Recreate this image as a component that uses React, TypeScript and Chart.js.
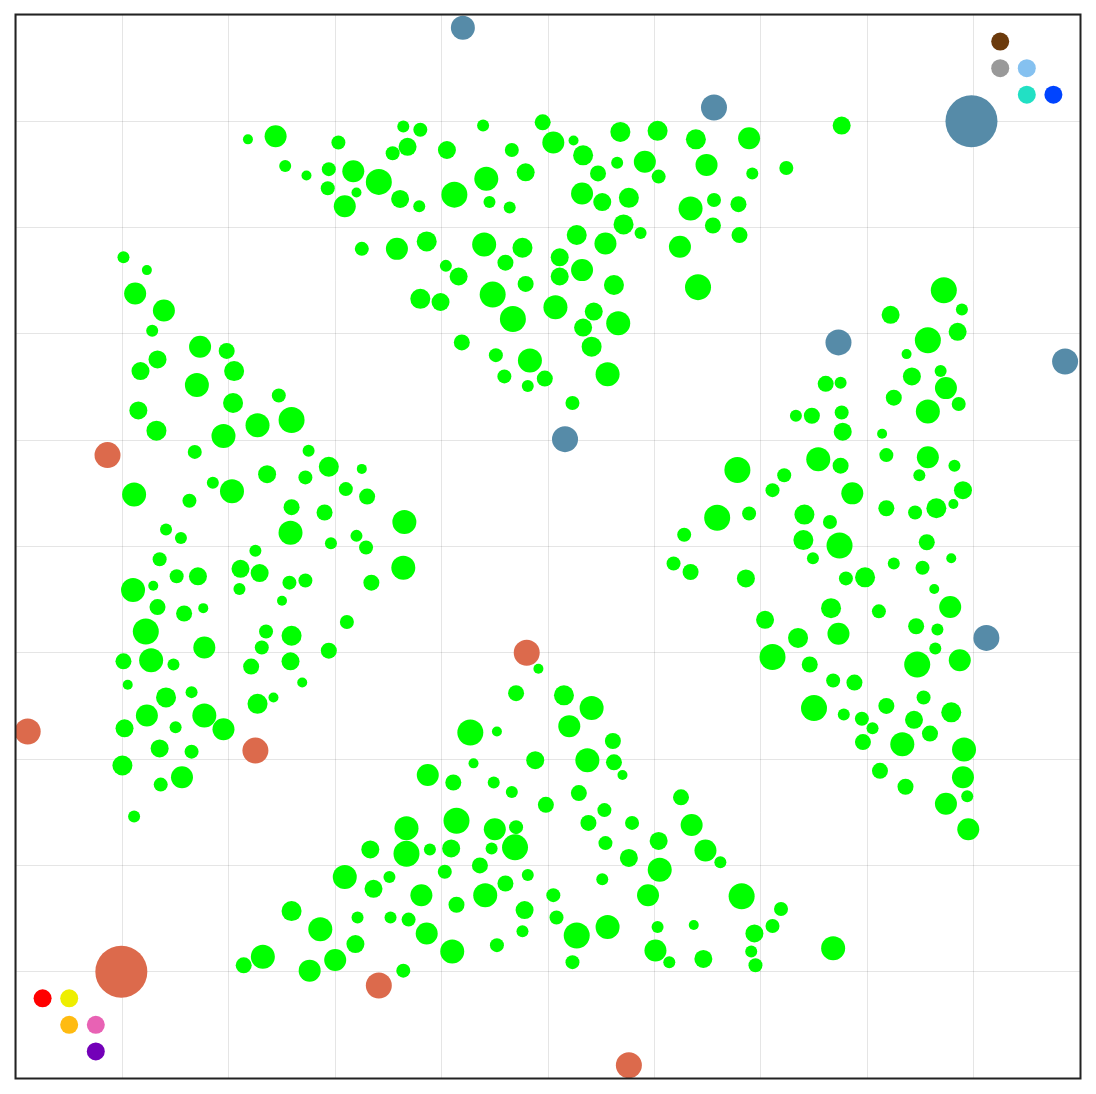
import React, { useEffect, useRef } from "react";
import { Chart, registerables } from "chart.js";

Chart.register(...registerables);

// [x, y, radius]
type Pt = [number, number, number];

const topCluster: Pt[] = [
  [2.18, 8.83, 5], [2.44, 8.86, 11], [3.03, 8.80, 7], [3.64, 8.95, 6], [3.80, 8.92, 7],
  [4.39, 8.96, 6], [4.95, 8.99, 8], [5.05, 8.80, 11], [5.24, 8.82, 5], [5.68, 8.90, 10],
  [6.03, 8.91, 10], [6.39, 8.83, 10], [6.89, 8.84, 11], [7.76, 8.96, 9], [2.53, 8.58, 6],
  [2.73, 8.49, 5], [2.94, 8.55, 7], [3.17, 8.53, 11], [2.93, 8.37, 7], [3.20, 8.33, 5],
  [3.41, 8.43, 13], [3.54, 8.70, 7], [3.68, 8.76, 9], [4.05, 8.73, 9], [4.66, 8.73, 7],
  [5.33, 8.68, 10], [5.65, 8.61, 6], [5.47, 8.51, 8], [5.91, 8.62, 11], [6.04, 8.48, 7],
  [6.49, 8.59, 11], [6.92, 8.51, 6], [7.24, 8.56, 7], [3.09, 8.20, 11], [3.61, 8.27, 9],
  [3.79, 8.20, 6], [4.12, 8.31, 13], [4.42, 8.46, 12], [4.45, 8.24, 6], [4.64, 8.19, 6],
  [4.79, 8.52, 9], [5.32, 8.32, 11], [5.51, 8.24, 9], [5.76, 8.28, 10], [6.34, 8.18, 12],
  [6.56, 8.26, 7], [6.79, 8.22, 8], [3.25, 7.80, 7], [3.58, 7.80, 11], [3.86, 7.87, 10],
  [4.40, 7.84, 12], [4.76, 7.81, 10], [5.11, 7.72, 9], [5.27, 7.93, 10], [5.54, 7.85, 11],
  [5.71, 8.03, 10], [5.87, 7.95, 6], [6.24, 7.82, 11], [6.55, 8.02, 8], [6.80, 7.93, 8],
  [4.04, 7.64, 6], [4.16, 7.54, 9], [4.60, 7.67, 8], [4.79, 7.47, 8], [5.11, 7.54, 9],
  [5.32, 7.60, 11], [5.62, 7.46, 10], [3.80, 7.33, 10], [3.99, 7.30, 9], [4.48, 7.37, 13],
  [5.07, 7.25, 12], [4.67, 7.14, 13], [5.33, 7.06, 9], [5.43, 7.21, 9], [5.66, 7.10, 12],
  [6.41, 7.44, 13], [4.19, 6.92, 8], [4.51, 6.80, 7], [4.83, 6.75, 12], [4.59, 6.60, 7],
  [4.81, 6.51, 6], [4.97, 6.58, 8], [5.41, 6.88, 10], [5.56, 6.62, 12], [5.23, 6.35, 7],
];

const rightCluster: Pt[] = [
  [8.72, 7.41, 13], [8.89, 7.23, 6], [8.22, 7.18, 9], [8.85, 7.02, 9], [8.57, 6.94, 13],
  [8.37, 6.81, 5], [8.42, 6.60, 9], [8.69, 6.65, 6], [8.74, 6.49, 11], [8.25, 6.40, 8],
  [8.86, 6.34, 7], [8.57, 6.27, 12], [7.61, 6.53, 8], [7.75, 6.54, 6], [7.33, 6.23, 6],
  [7.48, 6.23, 8], [7.76, 6.26, 7], [7.77, 6.08, 9], [8.14, 6.06, 5], [8.18, 5.86, 7],
  [8.57, 5.84, 11], [8.82, 5.76, 6], [8.49, 5.67, 6], [8.90, 5.53, 9], [8.81, 5.40, 5],
  [8.65, 5.36, 10], [8.45, 5.32, 7], [8.18, 5.36, 8], [6.78, 5.72, 13], [6.59, 5.27, 13],
  [6.28, 5.11, 7], [6.89, 5.31, 7], [7.22, 5.67, 7], [7.11, 5.53, 7], [7.54, 5.82, 12],
  [7.75, 5.76, 8], [7.86, 5.50, 11], [7.41, 5.30, 10], [7.65, 5.23, 7], [7.40, 5.06, 10],
  [7.74, 5.01, 13], [7.49, 4.89, 6], [8.25, 4.84, 6], [8.56, 5.04, 8], [8.79, 4.89, 5],
  [8.52, 4.80, 7], [6.18, 4.84, 7], [6.34, 4.76, 8], [6.86, 4.70, 9], [7.80, 4.70, 7],
  [7.98, 4.71, 10], [8.63, 4.60, 5], [8.78, 4.43, 11], [8.11, 4.39, 7], [7.66, 4.42, 10],
  [7.04, 4.31, 9], [7.73, 4.18, 11], [7.35, 4.14, 10], [8.46, 4.25, 8], [8.66, 4.22, 6],
  [8.64, 4.04, 6], [8.87, 3.93, 11], [7.11, 3.96, 13], [7.46, 3.89, 8], [8.47, 3.89, 13],
  [7.68, 3.74, 7], [7.88, 3.72, 8], [8.53, 3.58, 7], [8.18, 3.50, 8], [8.79, 3.44, 10],
  [7.50, 3.48, 13], [7.78, 3.42, 6], [7.95, 3.38, 7], [8.05, 3.29, 6], [8.44, 3.37, 9],
  [8.59, 3.24, 8], [7.96, 3.16, 8], [8.33, 3.14, 12], [8.91, 3.09, 12], [8.12, 2.89, 8],
  [8.36, 2.74, 8], [8.90, 2.83, 11], [8.94, 2.65, 6], [8.74, 2.58, 11], [8.95, 2.34, 11],
];

const leftCluster: Pt[] = [
  [1.01, 7.72, 6], [1.23, 7.60, 5], [1.12, 7.38, 11], [1.39, 7.22, 11], [1.28, 7.03, 6],
  [1.73, 6.88, 11], [1.98, 6.84, 8], [1.33, 6.76, 9], [1.17, 6.65, 9], [2.05, 6.65, 10],
  [1.70, 6.52, 12], [2.47, 6.42, 7], [1.15, 6.28, 9], [2.04, 6.35, 10], [1.32, 6.09, 10],
  [1.95, 6.04, 12], [2.27, 6.14, 12], [2.59, 6.19, 13], [1.68, 5.89, 7], [2.75, 5.90, 6],
  [2.94, 5.75, 10], [3.25, 5.73, 5], [2.36, 5.68, 9], [2.72, 5.65, 7], [1.11, 5.49, 12],
  [1.85, 5.60, 6], [2.03, 5.52, 12], [3.10, 5.54, 7], [3.30, 5.47, 8], [1.63, 5.43, 7],
  [2.59, 5.37, 8], [2.90, 5.32, 8], [3.65, 5.23, 12], [2.58, 5.13, 12], [1.41, 5.16, 6],
  [1.55, 5.08, 6], [2.96, 5.03, 6], [3.20, 5.10, 6], [3.29, 4.99, 7], [2.25, 4.96, 6],
  [1.35, 4.88, 7], [2.11, 4.79, 9], [2.29, 4.75, 9], [1.71, 4.72, 9], [1.51, 4.72, 7],
  [3.64, 4.80, 12], [2.57, 4.66, 7], [2.72, 4.68, 7], [3.34, 4.66, 8], [1.10, 4.59, 12],
  [1.29, 4.63, 5], [2.10, 4.60, 6], [2.50, 4.49, 5], [1.33, 4.43, 8], [1.58, 4.37, 8],
  [1.76, 4.42, 5], [3.11, 4.29, 7], [1.22, 4.20, 13], [2.35, 4.20, 7], [2.59, 4.16, 10],
  [1.77, 4.05, 11], [2.31, 4.05, 7], [1.01, 3.92, 8], [1.27, 3.93, 12], [1.48, 3.89, 6],
  [2.21, 3.87, 8], [2.58, 3.92, 9], [2.94, 4.02, 8], [1.05, 3.70, 5], [2.69, 3.72, 5],
  [1.41, 3.58, 10], [1.65, 3.63, 6], [2.27, 3.52, 10], [2.42, 3.58, 5], [1.23, 3.41, 11],
  [1.77, 3.41, 12], [1.95, 3.28, 11], [1.02, 3.29, 9], [1.50, 3.30, 6], [1.35, 3.10, 9],
  [1.65, 3.07, 7], [1.00, 2.94, 10], [1.56, 2.83, 11], [1.36, 2.76, 7], [1.11, 2.46, 6],
];

const bottomCluster: Pt[] = [
  [4.91, 3.85, 5], [4.70, 3.62, 8], [5.15, 3.60, 10], [5.41, 3.48, 12], [5.20, 3.31, 11],
  [4.27, 3.25, 13], [4.52, 3.26, 5], [5.61, 3.17, 8], [5.37, 2.99, 12], [5.62, 2.97, 8],
  [5.70, 2.85, 5], [4.88, 2.99, 9], [4.30, 2.96, 5], [3.87, 2.85, 11], [4.11, 2.78, 8],
  [4.49, 2.78, 6], [4.66, 2.69, 6], [5.29, 2.68, 8], [4.98, 2.57, 8], [5.53, 2.52, 7],
  [5.79, 2.40, 7], [5.38, 2.40, 8], [3.67, 2.35, 12], [4.14, 2.42, 13], [4.50, 2.34, 11],
  [4.70, 2.36, 7], [5.54, 2.21, 7], [5.76, 2.07, 9], [3.33, 2.15, 9], [3.67, 2.11, 13],
  [3.89, 2.15, 6], [4.09, 2.16, 9], [4.47, 2.16, 6], [4.69, 2.17, 13], [4.36, 2.00, 8],
  [4.03, 1.94, 7], [4.81, 1.91, 6], [5.51, 1.87, 6], [3.09, 1.89, 12], [3.36, 1.78, 9],
  [3.51, 1.89, 6], [3.81, 1.72, 11], [4.14, 1.63, 8], [4.41, 1.72, 12], [4.60, 1.83, 8],
  [5.05, 1.72, 7], [4.78, 1.58, 9], [2.59, 1.57, 10], [3.21, 1.51, 6], [3.52, 1.51, 6],
  [3.69, 1.49, 7], [3.86, 1.36, 11], [4.10, 1.19, 12], [5.08, 1.51, 7], [4.76, 1.38, 6],
  [4.52, 1.25, 7], [5.27, 1.34, 13], [5.56, 1.42, 12], [5.23, 1.09, 7], [2.86, 1.40, 12],
  [3.19, 1.26, 9], [3.00, 1.11, 11], [2.76, 1.01, 11], [2.32, 1.14, 12], [2.14, 1.06, 8],
  [3.64, 1.01, 7], [6.25, 2.64, 8], [6.35, 2.38, 11], [6.48, 2.14, 11], [6.62, 2.03, 6],
  [6.04, 2.23, 9], [6.05, 1.96, 12], [5.94, 1.72, 11], [6.03, 1.42, 6], [6.01, 1.20, 11],
  [6.14, 1.09, 6], [6.46, 1.12, 9], [6.37, 1.44, 5], [6.82, 1.71, 13], [7.19, 1.59, 7],
  [7.11, 1.43, 7], [6.94, 1.36, 9], [6.91, 1.19, 6], [6.95, 1.06, 7], [7.68, 1.22, 12],
];

const bluePoints: Pt[] = [
  [4.20, 9.88, 12], [6.56, 9.13, 13], [8.98, 9.00, 26], [7.73, 6.92, 13],
  [9.86, 6.74, 13], [5.16, 6.01, 13], [9.12, 4.14, 13],
];

const orangePoints: Pt[] = [
  [0.86, 5.86, 13], [0.11, 3.26, 13], [2.25, 3.08, 13], [4.80, 4.00, 13],
  [3.41, 0.87, 13], [5.76, 0.12, 13], [0.99, 1.00, 26],
];

const markerLabels = ["red", "yellow", "orange", "pink", "purple", "brown", "gray", "lightblue", "teal", "blue"];
const markerX = [0.25, 0.5, 0.5, 0.75, 0.75, 9.25, 9.25, 9.5, 9.5, 9.75];
const markerY = [0.75, 0.75, 0.5, 0.5, 0.25, 9.75, 9.5, 9.5, 9.25, 9.25];
const markerR = [9, 9, 9, 9, 9, 9, 9, 9, 9, 9];
const markerColors = ["#ff0000", "#eeee00", "#ffbb11", "#e862b4", "#7300b8", "#6b3a0c", "#999999", "#85c1f0", "#22e0c4", "#0044ff"];

const toBubbles = (pts: Pt[]) => pts.map(([x, y, r]) => ({ x, y, r }));

const frame = {
  id: "frame",
  afterDraw(chart: any) {
    const { ctx, chartArea } = chart;
    ctx.save();
    ctx.strokeStyle = "#222";
    ctx.lineWidth = 2;
    ctx.strokeRect(chartArea.left - 0.5, chartArea.top - 0.5, chartArea.right - chartArea.left + 1, chartArea.bottom - chartArea.top + 1);
    ctx.restore();
  },
};

export default function App() {
  const ref = useRef<HTMLCanvasElement>(null);
  useEffect(() => {
    if (!ref.current) return;
    const green = [...topCluster, ...leftCluster, ...rightCluster, ...bottomCluster];
    const chart = new Chart(ref.current, {
      type: "bubble",
      data: {
        datasets: [
          { label: "points", data: toBubbles(green), backgroundColor: "#00ff00", borderWidth: 0 },
          { label: "blue", data: toBubbles(bluePoints), backgroundColor: "#568ba8", borderWidth: 0 },
          { label: "orange", data: toBubbles(orangePoints), backgroundColor: "#dc6a4c", borderWidth: 0 },
          {
            label: "markers",
            data: markerX.map((x, i) => ({ x, y: markerY[i], r: markerR[i], label: markerLabels[i] })),
            backgroundColor: markerColors,
            borderWidth: 0,
          },
        ],
      },
      options: {
        animation: false,
        responsive: true,
        maintainAspectRatio: false,
        layout: { autoPadding: false, padding: { left: 8, right: 8, top: 7, bottom: 8 } },
        plugins: { legend: { display: false }, tooltip: { enabled: false } },
        scales: {
          x: {
            type: "linear",
            min: 0,
            max: 10,
            ticks: { display: false, stepSize: 1 },
            grid: { drawTicks: false, color: "rgba(0,0,0,0.1)" },
            border: { display: false },
          },
          y: {
            type: "linear",
            min: 0,
            max: 10,
            ticks: { display: false, stepSize: 1 },
            grid: { drawTicks: false, color: "rgba(0,0,0,0.1)" },
            border: { display: false },
          },
        },
      },
      plugins: [frame],
    });
    return () => chart.destroy();
  }, []);
  return (
    <div style={{ width: 1080, height: 1078, position: "relative" }}>
      <canvas ref={ref} />
    </div>
  );
}
